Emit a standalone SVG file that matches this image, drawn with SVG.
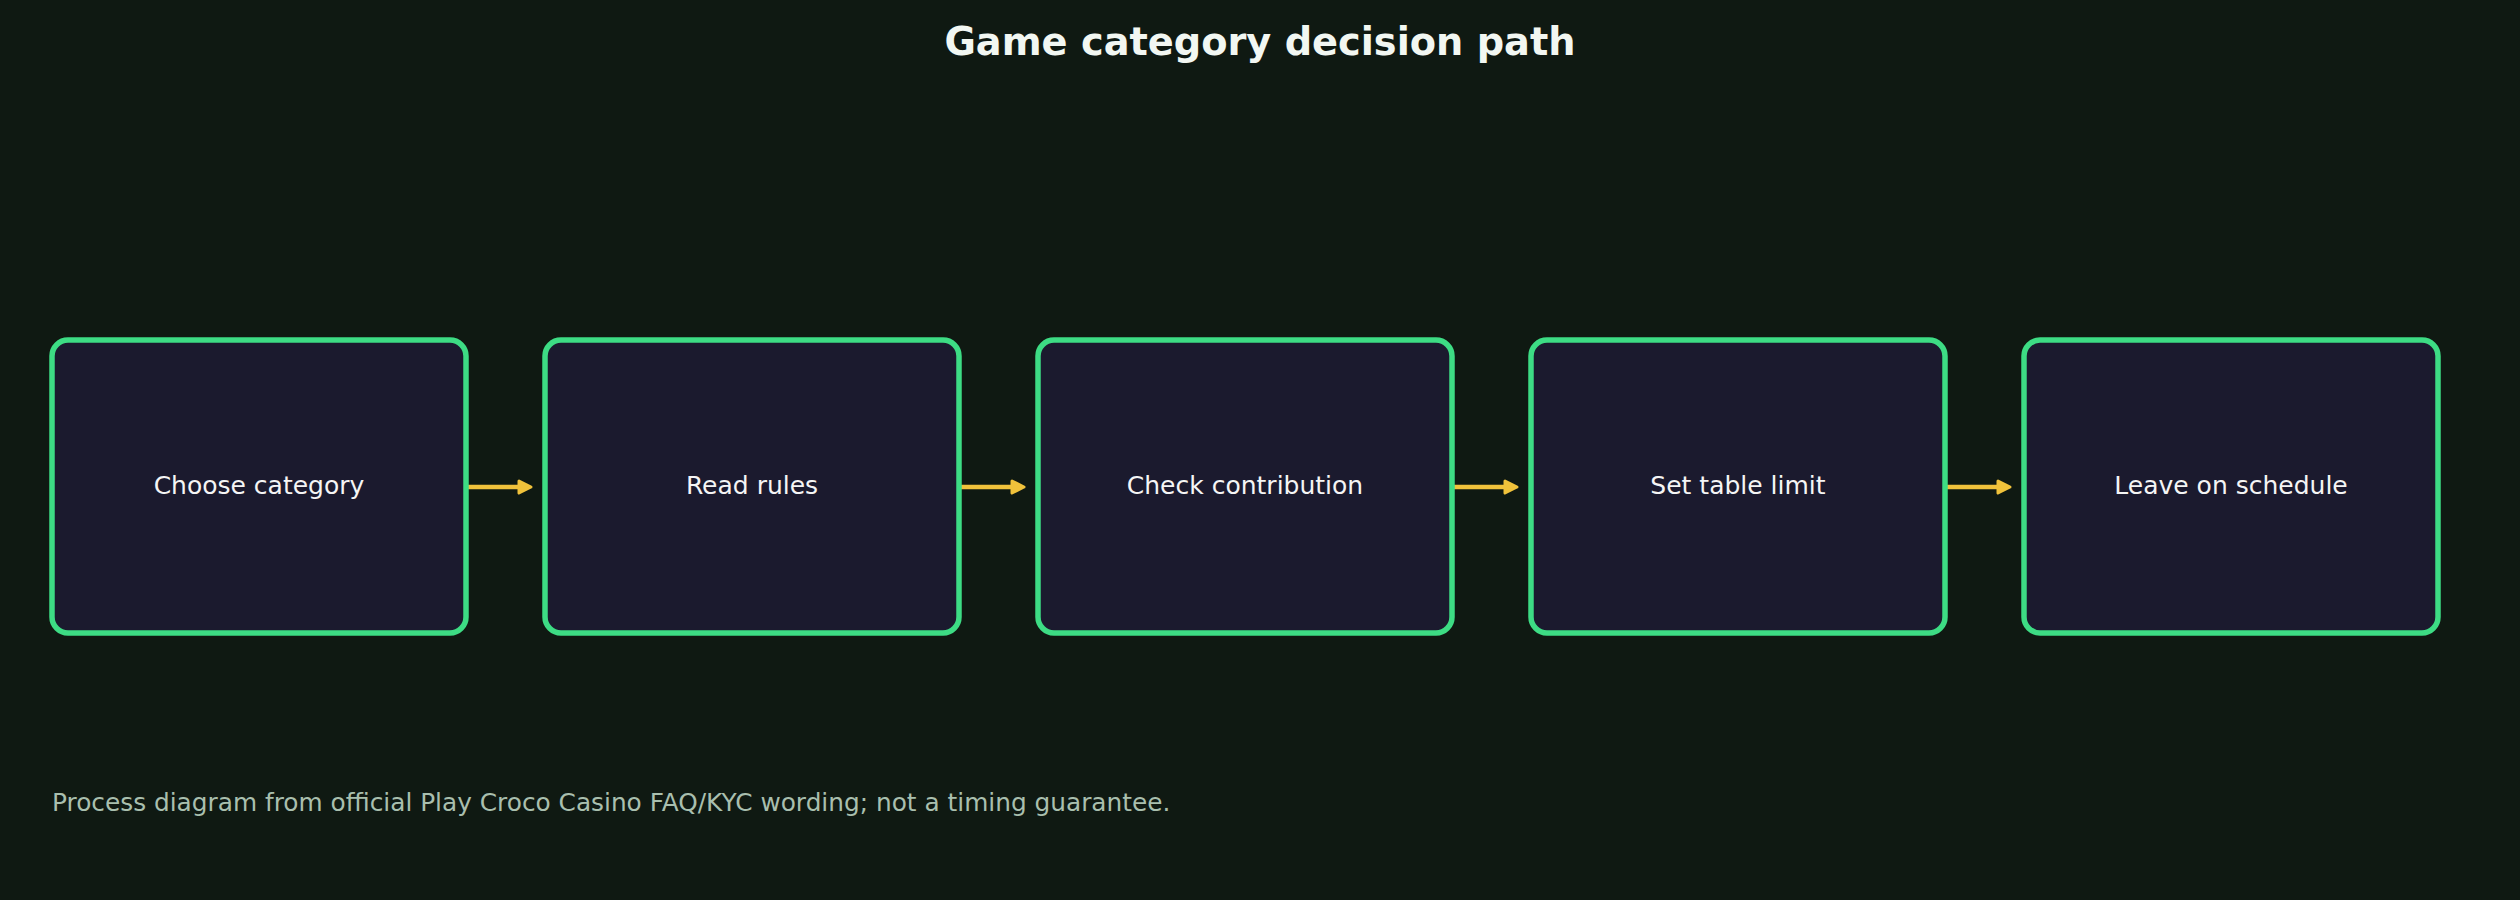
<svg xmlns="http://www.w3.org/2000/svg" width="2520" height="900" viewBox="0 0 2520 900">
  <style>
    .bg { fill: #0f1912; }
    .box { fill: #1b1a2e; stroke: #3ddc84; stroke-width: 5.5; }
    .label { font-family: "DejaVu Sans", "Liberation Sans", sans-serif; font-size: 25px; fill: #f5f5f5; text-anchor: middle; }
    .title { font-family: "DejaVu Sans", "Liberation Sans", sans-serif; font-size: 38.3px; font-weight: bold; fill: #f2f7f2; text-anchor: middle; }
    .note { font-family: "DejaVu Sans", "Liberation Sans", sans-serif; font-size: 24.8px; fill: #a9bfae; }
    .edge { stroke: #f0c23b; stroke-width: 4.5; fill: none; }
  </style>
  <defs>
    <marker id="arrow" viewBox="0 0 18 18" refX="3" refY="9" markerWidth="18" markerHeight="18" markerUnits="userSpaceOnUse" orient="auto">
      <path d="M3,3 L15,9 L3,15 Z" fill="#f0c23b" stroke="#f0c23b" stroke-width="3" stroke-linejoin="round"/>
    </marker>
  </defs>
  <rect class="bg" x="0" y="0" width="2520" height="900"/>
  <text class="title" x="1260" y="55">Game category decision path</text>

  <g id="connectors">
    <line class="edge" x1="466" y1="487" x2="519" y2="487" marker-end="url(#arrow)"/>
    <line class="edge" x1="959" y1="487" x2="1012" y2="487" marker-end="url(#arrow)"/>
    <line class="edge" x1="1452" y1="487" x2="1505" y2="487" marker-end="url(#arrow)"/>
    <line class="edge" x1="1945" y1="487" x2="1998" y2="487" marker-end="url(#arrow)"/>
  </g>

  <g id="node-choose-category">
    <rect class="box" x="52" y="340" width="414" height="293" rx="16"/>
    <text class="label" x="259" y="494">Choose category</text>
  </g>
  <g id="node-read-rules">
    <rect class="box" x="545" y="340" width="414" height="293" rx="16"/>
    <text class="label" x="752" y="494">Read rules</text>
  </g>
  <g id="node-check-contribution">
    <rect class="box" x="1038" y="340" width="414" height="293" rx="16"/>
    <text class="label" x="1245" y="494">Check contribution</text>
  </g>
  <g id="node-set-table-limit">
    <rect class="box" x="1531" y="340" width="414" height="293" rx="16"/>
    <text class="label" x="1738" y="494">Set table limit</text>
  </g>
  <g id="node-leave-on-schedule">
    <rect class="box" x="2024" y="340" width="414" height="293" rx="16"/>
    <text class="label" x="2231" y="494">Leave on schedule</text>
  </g>

  <text class="note" x="52" y="811">Process diagram from official Play Croco Casino FAQ/KYC wording; not a timing guarantee.</text>
</svg>
